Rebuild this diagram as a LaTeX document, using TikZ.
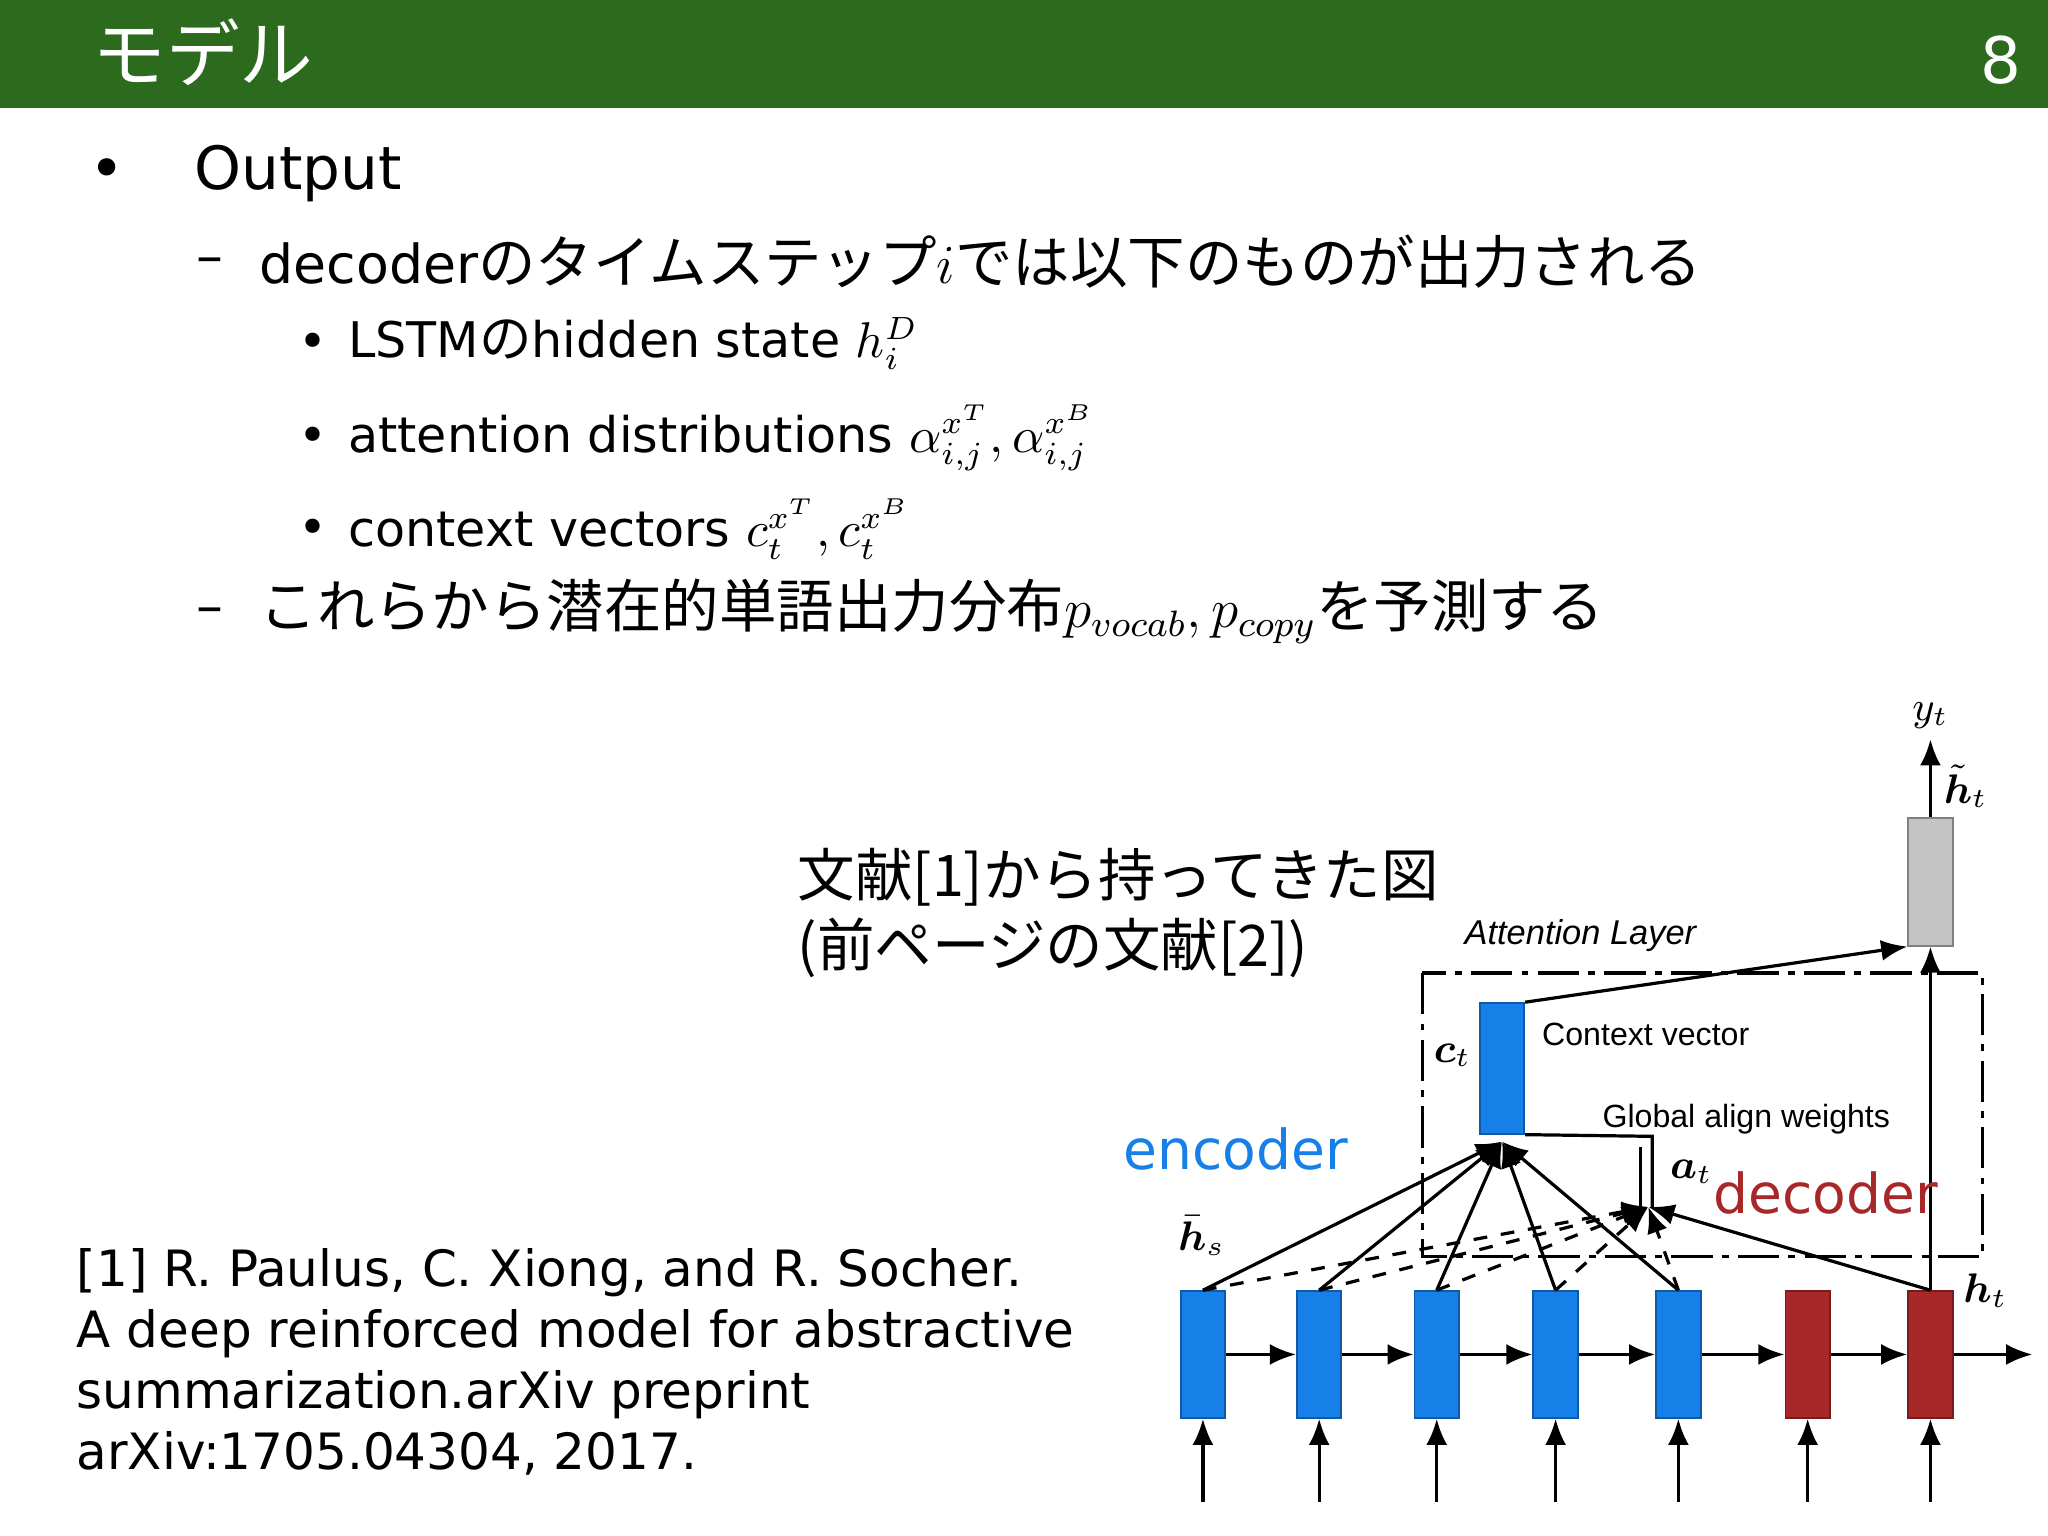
\documentclass[tikz,border=0pt]{standalone}
\usepackage{fontspec}
\usepackage{amsmath}
\setmainfont{DejaVu Sans}
\newfontfamily\jp[Scale=1.07]{Noto Sans CJK JP}
\newfontfamily\arialf{Liberation Sans}
\usetikzlibrary{arrows.meta}
\definecolor{hdr}{HTML}{2C6B1E}
\definecolor{encb}{HTML}{1680E8}
\definecolor{decr}{HTML}{A8282A}
\definecolor{gbox}{HTML}{C4C4C4}
\begin{document}
\begin{tikzpicture}[x=0.1mm,y=-0.1mm,
  txt/.style={anchor=west,inner sep=0},
  big/.style={font=\fontsize{13pt}{15pt}\selectfont},
  mid/.style={font=\fontsize{11.7pt}{14pt}\selectfont},
  sml/.style={font=\fontsize{10.7pt}{13pt}\selectfont},
  lab/.style={font=\arialf\fontsize{7pt}{8pt}\selectfont,inner sep=0},
  enc/.style={draw=encb!70!black,fill=encb,minimum width=3.4mm,minimum height=9.7mm,inner sep=0},
  dec/.style={draw=decr!70!black,fill=decr,minimum width=3.4mm,minimum height=9.7mm,inner sep=0},
  arr/.style={-{Latex[length=2mm,width=1.6mm]},line width=0.7pt},
  ln/.style={line width=0.7pt}]
\useasboundingbox (0,0) rectangle (1568,1176);
\fill[white] (0,0) rectangle (1568,1176);
\fill[hdr] (0,0) rectangle (1568,83);
\node[txt,white,font=\jp\fontsize{15pt}{17pt}\selectfont] (title) at (70,40) {モデル};
\node[anchor=east,inner sep=0,white,font=\fontsize{14pt}{16pt}\selectfont] (pg) at (1548,46) {8};
\node[txt,big] (b1) at (68,133) {•};
\node[txt,big] (o1) at (148,133) {Output};
\node[txt,mid] (d1) at (150,204) {–};
\node[txt,mid] (t1) at (198,200) {decoder{\jp のタイムステップ}$i${\jp では以下のものが出力される}};
\node[txt,sml] (s1) at (228,265) {•};
\node[txt,sml] (s1t) at (266,263) {LSTM{\jp の}hidden state $h_i^D$};
\node[txt,sml] (s2) at (228,337) {•};
\node[txt,sml] (s2t) at (266,335) {attention distributions $\alpha_{i,j}^{x^T},\alpha_{i,j}^{x^B}$};
\node[txt,sml] (s3) at (228,407) {•};
\node[txt,sml] (s3t) at (266,405) {context vectors $c_t^{x^T},c_t^{x^B}$};
\node[txt,mid] (d2) at (150,472) {–};
\node[txt,mid] (t2) at (198,468) {{\jp これらから潜在的単語出力分布}$p_{vocab},p_{copy}${\jp を予測する}};
\node[txt,mid,font=\jp\fontsize{11.7pt}{14pt}\selectfont] (cap1) at (610,672) {文献[1]から持ってきた図};
\node[txt,mid,font=\jp\fontsize{11.7pt}{14pt}\selectfont] (cap2) at (610,726) {(前ページの文献[2])};
\node[txt,font=\fontsize{10.9pt}{13.3pt}\selectfont,align=left,anchor=north west] (ref) at (58,955) {[1] R. Paulus, C. Xiong, and R. Socher.\\A deep reinforced model for abstractive\\summarization.arXiv preprint\\arXiv:1705.04304, 2017.};
% diagram
\draw[ln,dash pattern=on 9pt off 2pt on 1.5pt off 2pt] (1089,745) rectangle (1518,962);
\foreach \i/\x in {1/921,2/1010,3/1100,4/1191,5/1285} \node[enc] (e\i) at (\x,1037) {};
\node[dec] (r1) at (1384,1037) {};
\node[dec] (r2) at (1478,1037) {};
\node[enc,minimum height=10mm] (ct) at (1150,818) {};
\node[draw=gray,fill=gbox,minimum width=3.4mm,minimum height=9.8mm,inner sep=0] (ht) at (1478,675) {};
\coordinate (hub) at (1150,874);
\coordinate (at) at (1262,924);
\coordinate (yt) at (1478,566);
\coordinate (endr) at (1556,1037);
\foreach \a/\b in {e1/e2,e2/e3,e3/e4,e4/e5,e5/r1,r1/r2} \draw[arr] (\a) -- (\b);
\draw[arr] (r2) -- (endr);
\foreach \x/\n in {921/e1,1010/e2,1100/e3,1191/e4,1285/e5,1384/r1,1478/r2} {
  \coordinate (bot\n) at (\x,1150);
  \draw[arr] (bot\n) -- (\n.south);
}
\foreach \n in {e1,e2,e3,e4,e5} {
  \draw[ln,-{Latex[length=2mm,width=1.6mm]}] (\n.north) -- (hub);
  \draw[ln,dashed,-{Latex[length=2mm,width=1.6mm]}] (\n.north) -- (at);
}
\draw[ln,-{Latex[length=2mm,width=1.6mm]}] (r2.north) -- (at);
\draw[ln] (ct.south east) -- (1265,870) -- (1265,924);
\draw[ln] (1256,878) -- (1256,924);
\draw[arr] (r2.north) -- (ht.south);
\draw[arr] (ct.north east) -- (ht.south west);
\draw[arr] (ht.north) -- (yt);
\node[lab,font=\arialf\itshape\fontsize{7.5pt}{9pt}\selectfont] (al) at (1210,716) {Attention Layer};
\node[lab] (cv) at (1260,792) {Context vector};
\node[lab] (gw) at (1337,857) {Global align weights};
\node[inner sep=0,font=\fontsize{9pt}{10pt}\selectfont] (ctl) at (1112,808) {$\boldsymbol{c}_t$};
\node[inner sep=0,font=\fontsize{9pt}{10pt}\selectfont] (atl) at (1295,897) {$\boldsymbol{a}_t$};
\node[inner sep=0,font=\fontsize{9pt}{10pt}\selectfont] (hsl) at (920,946) {$\bar{\boldsymbol{h}}_s$};
\node[inner sep=0,font=\fontsize{9pt}{10pt}\selectfont] (htl) at (1520,988) {$\boldsymbol{h}_t$};
\node[inner sep=0,font=\fontsize{9pt}{10pt}\selectfont] (htt) at (1505,602) {$\tilde{\boldsymbol{h}}_t$};
\node[inner sep=0,font=\fontsize{9pt}{10pt}\selectfont] (ytl) at (1478,548) {$y_t$};
\node[inner sep=0,text=encb,font=\fontsize{12pt}{14pt}\selectfont] (encl) at (946,880) {encoder};
\node[inner sep=0,text=decr,font=\fontsize{12pt}{14pt}\selectfont] (decl) at (1398,913) {decoder};
\end{tikzpicture}
\end{document}
